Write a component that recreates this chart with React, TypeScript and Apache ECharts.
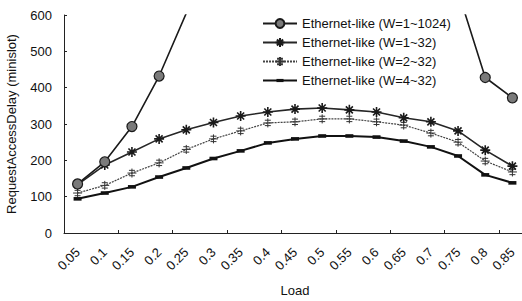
import React, { useEffect, useRef } from "react";
import * as echarts from "echarts";

const loads = ["0.05","0.1","0.15","0.2","0.25","0.3","0.35","0.4","0.45","0.5","0.55","0.6","0.65","0.7","0.75","0.8","0.85"];
const w1to1024 = [135, 196, 293, 432, 605, 800, 1000, 1150, 1250, 1300, 1300, 1250, 1100, 900, 665, 428, 372];
const w1to32 = [133, 187, 223, 259, 284, 304, 322, 333, 341, 344, 339, 333, 317, 306, 281, 228, 184];
const w2to32 = [110, 131, 165, 193, 230, 259, 281, 303, 306, 314, 314, 306, 297, 275, 250, 198, 168];
const w4to32 = [94, 110, 127, 154, 179, 205, 226, 248, 259, 267, 267, 264, 253, 237, 212, 160, 138];
const seriesNames = [
  "Ethernet-like (W=1~1024)",
  "Ethernet-like (W=1~32)",
  "Ethernet-like (W=2~32)",
  "Ethernet-like (W=4~32)",
];

const FONT = '"Liberation Sans", Arial, sans-serif';

export default function App() {
  const ref = useRef<HTMLDivElement>(null);
  useEffect(() => {
    if (!ref.current) return;
    const chart = echarts.init(ref.current, null, { renderer: "svg" });
    chart.setOption({
      animation: false,
      backgroundColor: "#ffffff",
      textStyle: { fontFamily: FONT, color: "#111" },
      legend: {
        orient: "vertical",
        left: 262,
        top: 17,
        padding: 0,
        itemWidth: 34,
        itemHeight: 11,
        itemGap: 6,
        textStyle: { fontFamily: FONT, fontSize: 13, color: "#111" },
        data: seriesNames,
      },
      grid: { left: 64, top: 15, bottom: 68, width: 462, outerBoundsMode: "none", containLabel: false },
      xAxis: [
        {
          type: "category",
          data: loads,
          boundaryGap: true,
          name: "Load",
          nameLocation: "middle",
          nameGap: 51,
          nameTextStyle: { fontFamily: FONT, fontSize: 13, color: "#111" },
          axisLine: { lineStyle: { color: "#222", width: 1 } },
          axisTick: { alignWithLabel: true, inside: true, length: 4, lineStyle: { color: "#222" } },
          axisLabel: { rotate: 45, fontFamily: FONT, fontSize: 13, color: "#111", margin: 17, interval: 0 },
          splitLine: { show: false },
        },
        {
          type: "category",
          data: loads,
          boundaryGap: true,
          position: "bottom",
          axisLine: { show: false },
          axisTick: { show: true, inside: true, length: 3, lineStyle: { color: "#222" } },
          axisLabel: { show: false },
          splitLine: { show: false },
        },
      ],
      yAxis: {
        type: "value",
        min: 0,
        max: 600,
        interval: 100,
        name: "RequestAccessDelay (minislot)",
        nameLocation: "middle",
        nameGap: 46,
        nameTextStyle: { fontFamily: FONT, fontSize: 13, color: "#111" },
        axisLine: { show: true, lineStyle: { color: "#222", width: 1 } },
        axisTick: { show: true, inside: true, length: 3, lineStyle: { color: "#222" } },
        axisLabel: { fontFamily: FONT, fontSize: 13, color: "#111", margin: 12 },
        splitLine: { show: false },
      },
      series: [
        {
          name: seriesNames[0],
          type: "line",
          data: w1to1024,
          clip: true,
          symbol: "circle",
          symbolSize: 10,
          itemStyle: { color: "#7a7a7a", borderColor: "#1a1a1a", borderWidth: 1.2 },
          lineStyle: { color: "#1a1a1a", width: 1.6 },
          z: 4,
        },
        {
          name: seriesNames[1],
          type: "line",
          data: w1to32,
          symbol: "path://M5 0L5 10M0 5L10 5M1.5 1.5L8.5 8.5M8.5 1.5L1.5 8.5",
          symbolSize: 10,
          itemStyle: { color: "#1a1a1a", borderColor: "#1a1a1a", borderWidth: 1.6 },
          lineStyle: { color: "#262626", width: 1.6 },
          z: 3,
        },
        {
          name: seriesNames[2],
          type: "line",
          data: w2to32,
          symbol: "path://M5 0L5 10M3 2L7 2M3 8L7 8M2 5L8 5",
          symbolSize: 9,
          itemStyle: { color: "#333", borderColor: "#333", borderWidth: 1 },
          lineStyle: { color: "#444", width: 1.2, type: [2, 1] },
          z: 2,
        },
        {
          name: seriesNames[3],
          type: "line",
          data: w4to32,
          symbol: "path://M0 0M10 10M1 3.2L9 3.2L9 6.8L1 6.8Z",
          symbolSize: 10,
          itemStyle: { color: "#111", borderColor: "#111", borderWidth: 0 },
          lineStyle: { color: "#111", width: 2 },
          z: 2,
        },
      ],
    });
    return () => chart.dispose();
  }, []);
  return (
    <div
      ref={ref}
      style={{ position: "fixed", left: 0, top: 0, width: 522, height: 301, background: "#fff" }}
    />
  );
}
